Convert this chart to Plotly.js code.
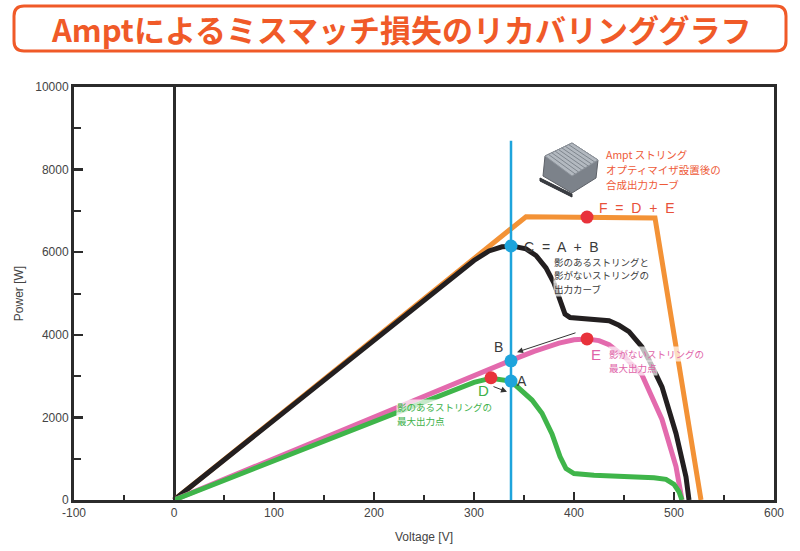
<!DOCTYPE html>
<html>
<head>
<meta charset="utf-8">
<script src="https://cdn.plot.ly/plotly-3.0.1.min.js"></script>
<style>
  body { margin: 0; background: #fff; }
  #plot { width: 800px; height: 551px; }
</style>
</head>
<body>
<div id="plot"></div>
<script>
// curves (voltage V, power W)
var orangeV = [0, 352, 481, 527];
var orangeP = [0, 6860, 6830, 0];

var blackV = [0, 100, 200, 300, 315, 328, 340, 352, 362, 372, 380, 386, 391, 396, 404, 420, 435, 445, 455, 468, 475, 488, 502, 512, 515];
var blackP = [0, 1930, 3870, 5800, 6030, 6130, 6140, 6080, 5920, 5620, 5250, 4850, 4500, 4420, 4400, 4380, 4340, 4230, 4075, 3705, 3390, 2740, 1610, 560, 0];

var pinkV = [0, 100, 200, 300, 337, 360, 385, 400, 413, 425, 435, 450, 468, 488, 502, 508];
var pinkP = [0, 1010, 2020, 3030, 3380, 3600, 3800, 3880, 3900, 3860, 3760, 3480, 3030, 1950, 810, 0];

var greenV = [0, 100, 200, 300, 317, 337, 358, 368, 378, 386, 392, 400, 420, 452, 480, 492, 500, 505, 508];
var greenP = [0, 950, 1930, 2850, 2950, 2880, 2420, 2100, 1600, 1050, 760, 640, 600, 570, 540, 500, 380, 200, 0];

// operating line and points
var opV = 337;
var opTop = 8700;
var blueV = [337, 337, 337];
var blueP = [6150, 3370, 2880];
var redV = [413, 413, 317];
var redP = [6850, 3900, 2960];

var xTicks = [-100, 0, 100, 200, 300, 400, 500, 600];
var xTickText = ['-100', '0', '100', '200', '300', '400', '500', '600'];
var yTicks = [0, 2000, 4000, 6000, 8000, 10000];
var yTickText = ['0', '2000', '4000', '6000', '8000', '10000'];

function line(x, y, color, width) {
    return {x: x, y: y, mode: 'lines', type: 'scatter', hoverinfo: 'skip',
            line: {color: color, width: width}};
}

var traces = [
    line(orangeV, orangeP, '#f39236', 5),
    line(blackV, blackP, '#231f20', 5),
    line(pinkV, pinkP, '#e36aad', 5),
    line(greenV, greenP, '#3fb54a', 5),
    line([opV, opV], [0, opTop], '#1ea4dc', 2.5),
    {x: blueV, y: blueP, mode: 'markers', type: 'scatter', marker: {color: '#1ea4dc', size: 13}},
    {x: redV, y: redP, mode: 'markers', type: 'scatter', marker: {color: '#e8323b', size: 13}}
];

// pixel helpers for decorations outside the data
function px(v) { return (v - 74) / 700; }
function py(v) { return (500 - v) / 413; }

function roundRect(x0, y0, x1, y1, r) {
    return 'M' + px(x0 + r) + ',' + py(y0) +
        ' L' + px(x1 - r) + ',' + py(y0) +
        ' Q' + px(x1) + ',' + py(y0) + ' ' + px(x1) + ',' + py(y0 + r) +
        ' L' + px(x1) + ',' + py(y1 - r) +
        ' Q' + px(x1) + ',' + py(y1) + ' ' + px(x1 - r) + ',' + py(y1) +
        ' L' + px(x0 + r) + ',' + py(y1) +
        ' Q' + px(x0) + ',' + py(y1) + ' ' + px(x0) + ',' + py(y1 - r) +
        ' L' + px(x0) + ',' + py(y0 + r) +
        ' Q' + px(x0) + ',' + py(y0) + ' ' + px(x0 + r) + ',' + py(y0) + ' Z';
}

function poly(pts) {
    return 'M' + pts.map(function (p) { return px(p[0]) + ',' + py(p[1]); }).join(' L') + ' Z';
}

var shapes = [
    {type: 'path', xref: 'paper', yref: 'paper', path: roundRect(14, 6, 786, 51, 10),
     line: {color: '#f05a28', width: 3}, fillcolor: 'rgba(0,0,0,0)'},
    // optimizer box
    {type: 'path', xref: 'paper', yref: 'paper', path: poly([[543, 176], [545, 156], [572, 143], [598, 160], [596, 178], [572, 193]]),
     line: {color: '#5d6168', width: 1}, fillcolor: '#7c828a'},
    {type: 'path', xref: 'paper', yref: 'paper', path: poly([[545, 156], [572, 143], [598, 160], [572, 176]]),
     line: {color: '#8d939b', width: 1}, fillcolor: '#b3b9c0'},
    {type: 'path', xref: 'paper', yref: 'paper', path: poly([[540, 178], [572, 194], [572, 197], [540, 181]]),
     line: {color: '#2e3035', width: 1}, fillcolor: '#3b3e44'}
];
// heatsink fins
for (var i = 1; i < 8; i++) {
    var t = i / 8;
    shapes.push({type: 'line', xref: 'paper', yref: 'paper',
                 x0: px(545 + 27 * t), y0: py(156 - 13 * t), x1: px(572 + 26 * t), y1: py(176 - 16 * t),
                 line: {color: '#7f868e', width: 1}});
}

var labelFont = 'Noto Sans CJK JP, Noto Sans, sans-serif';
var letterFont = 'Liberation Sans Narrow, Liberation Sans, sans-serif';

function note(x, y, text, color, size, xanchor, family, bg) {
    var a = {x: x, y: y, xref: 'x', yref: 'y', text: text, showarrow: false,
             xanchor: xanchor || 'left', yanchor: 'middle', align: 'left',
             font: {family: family || labelFont, size: size, color: color}};
    if (bg) { a.bgcolor = 'rgba(255,255,255,0.7)'; a.borderpad = 0; }
    return a;
}

function arrow(x0, y0, x1, y1) {
    return {x: x1, y: y1, ax: x0, ay: y0, xref: 'x', yref: 'y', axref: 'x', ayref: 'y',
            text: '', showarrow: true, arrowhead: 2, arrowsize: 1.2, arrowwidth: 1, arrowcolor: '#333'};
}

var orangeText = '#ee5a38';
var pinkText = '#e063a8';
var greenText = '#3db14a';
var darkText = '#3a3a3a';

var annotations = [
    {xref: 'paper', yref: 'paper', x: px(401), y: py(28), text: 'Amptによるミスマッチ損失のリカバリンググラフ',
     showarrow: false, xanchor: 'center', yanchor: 'middle',
     font: {family: labelFont, size: 31, color: '#f05a28', weight: 'bold'}},

    note(430, 8377, 'Ampt ストリング', orangeText, 10.5),
    note(430, 8014, 'オプティマイザ設置後の', orangeText, 10.5),
    note(430, 7650, '合成出力カーブ', orangeText, 10.5),

    note(423, 7080, 'F  =  D  +  E', '#e8503a', 14, 'left', letterFont),
    note(348, 6130, 'C  =  A  +  B', darkText, 14, 'left', letterFont),

    note(379, 5770, '影のあるストリングと', darkText, 9.5, 'left', labelFont, true),
    note(379, 5440, '影がないストリングの', darkText, 9.5, 'left', labelFont, true),
    note(379, 5110, '出力カーブ', darkText, 9.5, 'left', labelFont, true),

    note(422, 3530, 'E', pinkText, 15, 'center', letterFont),
    note(434, 3535, '影がないストリングの', pinkText, 9.5, 'left', labelFont, true),
    note(434, 3196, '最大出力点', pinkText, 9.5, 'left', labelFont, true),

    note(324, 3700, 'B', darkText, 14, 'center', letterFont),
    note(348, 2880, 'A', darkText, 14, 'center', letterFont),
    note(309, 2640, 'D', greenText, 15, 'center', letterFont),

    note(222, 2252, '影のあるストリングの', greenText, 9.5, 'left', labelFont, true),
    note(222, 1913, '最大出力点', greenText, 9.5, 'left', labelFont, true),

    arrow(403, 4060, 343, 3580),
    arrow(318, 2760, 333, 2620)
];

var axisColor = '#2b2b2b';
var tickFont = {family: letterFont, size: 12, color: '#444'};

var layout = {
    width: 800,
    height: 551,
    margin: {l: 74, r: 26, t: 87, b: 51},
    paper_bgcolor: '#fff',
    plot_bgcolor: '#fff',
    showlegend: false,
    xaxis: {
        range: [-100, 600],
        tickvals: xTicks, ticktext: xTickText,
        ticks: 'inside', ticklen: 8, tickwidth: 2.5, tickcolor: axisColor,
        minor: {dtick: 50, tick0: -100, ticks: 'inside', ticklen: 5, tickwidth: 2, tickcolor: axisColor},
        showline: true, linewidth: 3, linecolor: axisColor, mirror: true,
        showgrid: false,
        zeroline: true, zerolinecolor: axisColor, zerolinewidth: 3,
        tickfont: tickFont,
        title: {text: 'Voltage [V]', font: {family: letterFont, size: 12, color: '#444'}, standoff: 14}
    },
    yaxis: {
        range: [0, 10000],
        tickvals: yTicks, ticktext: yTickText,
        ticks: 'inside', ticklen: 9, tickwidth: 2.5, tickcolor: axisColor,
        minor: {dtick: 1000, tick0: 0, ticks: 'inside', ticklen: 7, tickwidth: 2, tickcolor: axisColor},
        showline: true, linewidth: 3, linecolor: axisColor, mirror: true,
        showgrid: false, zeroline: false,
        tickfont: tickFont,
        title: {text: 'Power [W]', font: {family: letterFont, size: 12, color: '#444'}, standoff: 10}
    },
    shapes: shapes,
    annotations: annotations
};

Plotly.newPlot('plot', traces, layout, {displayModeBar: false, staticPlot: true});
</script>
</body>
</html>
